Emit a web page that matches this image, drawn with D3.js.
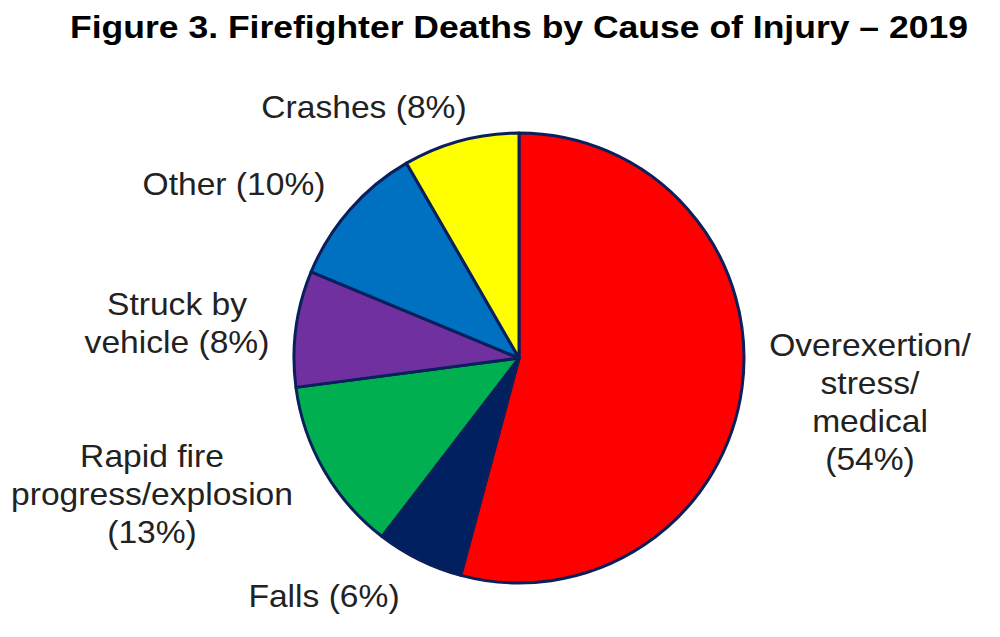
<!DOCTYPE html>
<html>
<head>
<meta charset="utf-8">
<script src="https://cdn.jsdelivr.net/npm/d3@7"></script>
<style>
  body { margin: 0; background: #fff; }
  text { font-family: "Liberation Sans", Arial, sans-serif; fill: #222; }
</style>
</head>
<body>
<div id="chart"></div>
<script>
// 2019 firefighter deaths by cause (counts, 48 total)
var causes = ['Overexertion/stress/medical', 'Falls', 'Rapid fire progress/explosion',
              'Struck by vehicle', 'Other', 'Crashes'];
var deaths = [26, 3, 6, 4, 5, 4];
var labelLines = [
  ['Overexertion/', 'stress/', 'medical', '(54%)'],
  ['Falls (6%)'],
  ['Rapid fire', 'progress/explosion', '(13%)'],
  ['Struck by', 'vehicle (8%)'],
  ['Other (10%)'],
  ['Crashes (8%)']
];
var colors = ['#ff0000', '#002060', '#00b050', '#7030a0', '#0070c0', '#ffff00'];

var width = 1000,
    height = 637;

var cx = 519, cy = 358, radius = 225;
var lineHeight = 38;

// where each label block sits (centre x, first baseline), relative to the pie centre
var labelOffsets = [[351, -2], [-195, 249], [-367, 109], [-342, -43], [-285, -163], [-155, -240]];

var svg = d3.select("#chart")
  .append("svg")
    .attr("width", width)
    .attr("height", height);

// the source picture is a little stretched sideways, hence the scale
svg.append("text")
    .attr("transform", "translate(" + cx + ",38) scale(1.11,1)")
    .attr("text-anchor", "middle")
    .style("font-size", "32px")
    .style("font-weight", "bold")
    .style("fill", "#000")
    .text("Figure 3. Firefighter Deaths by Cause of Injury \u2013 2019");

var pie = d3.pie()
    .sort(null)
    .value(function(d) { return d; });

var arc = d3.arc()
    .innerRadius(0)
    .outerRadius(radius);

var g = svg.append("g")
    .attr("transform", "translate(" + cx + "," + cy + ")");

g.selectAll("path")
    .data(pie(deaths))
  .enter().append("path")
    .attr("d", arc)
    .style("fill", function(d, i) { return colors[i]; })
    .style("stroke", "#0a1f5c")
    .style("stroke-width", 3)
    .style("stroke-linejoin", "round");

var labels = g.selectAll("text.label")
    .data(labelLines)
  .enter().append("text")
    .attr("class", "label")
    .attr("text-anchor", "middle")
    .attr("transform", function(d, i) {
      return "translate(" + labelOffsets[i][0] + "," + labelOffsets[i][1] + ") scale(1.05,1)";
    })
    .style("font-size", "32px");

labels.selectAll("tspan")
    .data(function(d) { return d; })
  .enter().append("tspan")
    .attr("x", 0)
    .attr("y", function(d, i) { return i * lineHeight; })
    .text(function(d) { return d; });
</script>
</body>
</html>
